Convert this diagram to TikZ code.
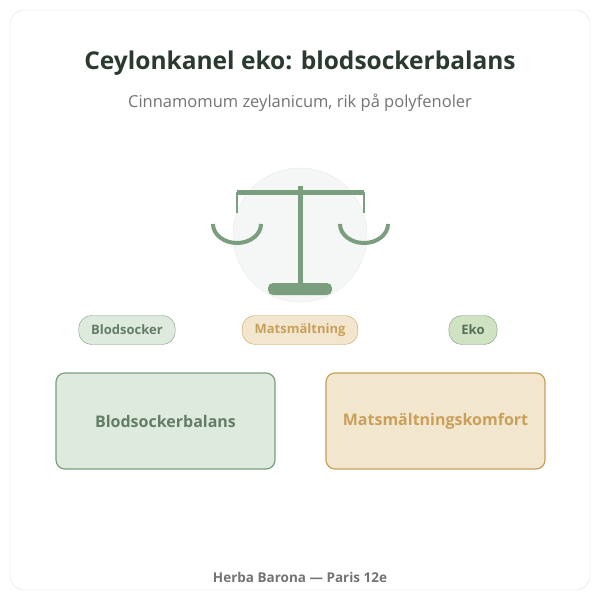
\documentclass[tikz,border=0pt]{standalone}
\usepackage{fontspec}
\setmainfont{Open Sans}
\definecolor{sage}{HTML}{7A9E7E}
\definecolor{sagefill}{HTML}{DFEADF}
\definecolor{sand}{HTML}{C9A05A}
\definecolor{sandfill}{HTML}{F3E6CF}
\definecolor{ekofill}{HTML}{CFE3C2}
\definecolor{ink}{HTML}{2B3A2E}
\tikzset{
  pill/.style={draw, rounded corners=13pt, minimum height=29pt, inner xsep=12.5pt, font=\bfseries\fontsize{13}{15}\selectfont},
  card/.style={draw, rounded corners=9pt, line width=1.2pt, minimum width=219pt, minimum height=96pt, font=\bfseries\fontsize{16}{19}\selectfont}
}
\begin{document}
\begin{tikzpicture}[x=1pt, y=-1pt]
    \useasboundingbox (0,0) rectangle (600,600);
    \draw[black!12, fill=white, rounded corners=14pt] (10,10) rectangle (590,590);

    \node[font=\bfseries\fontsize{24.5}{29}\selectfont, text=ink] (title) at (300,63) {Ceylonkanel eko: blodsockerbalans};
    \node[font=\fontsize{16.5}{20}\selectfont, text=black!55] (subtitle) at (300,103) {Cinnamomum zeylanicum, rik på polyfenoler};

    % scale icon
    \fill[sage!8, draw=sage!20] (300,235) circle (67);
    \draw[sage, line width=5pt] (237,192) -- (364,192);
    \draw[sage, line width=5pt] (300,186) -- (300,287);
    \draw[sage, line width=2pt] (237,192) -- (237,213) (364,192) -- (364,213);
    \draw[sage, line width=4pt] (213,224) arc (180:0:24 and 19);
    \draw[sage, line width=4pt] (340,224) arc (180:0:24 and 19);
    \fill[sage, rounded corners=5pt] (268,283) rectangle (332,295);

    \node[pill, draw=sage, fill=sagefill, text=sage!80!black] (sugar) at (127,330) {Blodsocker};
    \node[pill, draw=sand, fill=sandfill, text=sand] (digest) at (300,330) {Matsmältning};
    \node[pill, draw=sage, fill=ekofill, text=sage!70!black] (eko) at (473,330) {Eko};

    \node[card, draw=sage, fill=sagefill, text=sage!80!black] (balance) at (165.5,421) {Blodsockerbalans};
    \node[card, draw=sand, fill=sandfill, text=sand] (comfort) at (435.5,421) {Matsmältningskomfort};

    \node[font=\bfseries\fontsize{13.5}{16}\selectfont, text=black!55] (footer) at (300,577) {Herba Barona — Paris 12e};
\end{tikzpicture}
\end{document}
